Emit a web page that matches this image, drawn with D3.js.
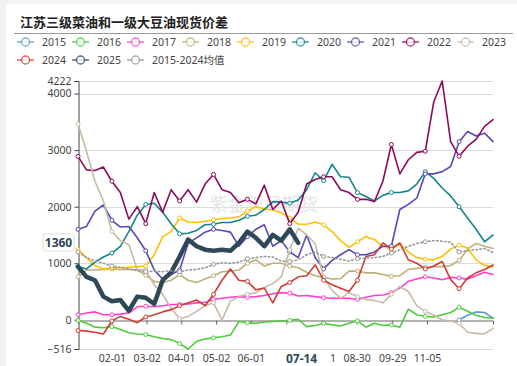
<!DOCTYPE html>
<html><head><meta charset="utf-8">
<script src="https://cdn.jsdelivr.net/npm/d3@7"></script>
<style>
html,body{margin:0;padding:0;background:#f2f2f2;}
svg{display:block;}
</style></head><body>
<svg id="c" width="517" height="366"></svg>
<script>
const title = "江苏三级菜油和一级大豆油现货价差";
const seriesNames = ["2015","2016","2017","2018","2019","2020","2021","2022","2023","2024","2025","2015-2024均值"];
const seriesColors = ["#5b9bd5","#4ccc3c","#ff40c8","#bfae7a","#ffc000","#12868c","#5a48b8","#8a0b5c","#c8b9a6","#d03c36","#2f4858","#999999"];
// weekly samples across the trading year (50 points)
const s2015 = [null,null,null,null,null,null,null,null,null,null, null,null,null,null,null,null,null,null,null,null, null,null,null,null,null,null,null,null,null,null, null,null,null,null,null,null,null,null,null,null, null,null,null,null,null,0,80,140,130,30];
const s2016 = [-10,-60,-130,-140,-120,-170,-230,-250,-260,-300, -330,-350,-420,-516,-380,-340,-320,-300,-270,-30, -50,-60,-40,-30,-20,-10,10,-120,-100,-60, -90,-110,-60,-20,-130,-60,-100,-90,-130,190, 90,60,50,90,130,220,150,80,40,30];
const s2017 = [90,120,140,90,90,100,120,230,240,230, 250,270,270,280,300,310,360,380,400,410, 400,410,430,460,480,470,420,430,410,390, 380,380,380,360,400,430,440,480,560,680, 720,760,740,710,750,740,720,780,840,800];
const s2018 = [760,880,880,890,900,890,890,880,790,680, 660,700,800,700,660,720,780,850,860,880, 1000,1060,950,1000,1000,950,920,840,780,750, 720,730,860,860,830,830,800,770,780,890, 910,930,940,940,960,1050,1250,1350,1300,1260];
const s2019 = [1240,1100,960,900,920,920,930,940,950,1150, 1470,1560,1800,1730,1720,1740,1770,1790,1800,1820, 1920,2000,1960,1940,1890,1800,1690,1690,1730,1680, 1560,1400,1280,1380,1470,1420,1300,1250,1340,1200, 1100,1070,1060,1120,1250,1320,1270,1060,960,940];
const s2020 = [940,900,1020,1110,1180,1300,1560,1850,2040,2060, 1900,1700,1520,1530,1580,1680,1690,1720,1720,1760, 1830,1850,1950,2090,2080,2060,2120,2300,2600,2460, 2750,2530,2520,2250,2180,2100,2200,2250,2250,2280, 2400,2620,2500,2330,2190,2000,1800,1600,1380,1500];
const s2021 = [1600,1650,1920,2030,1760,1640,1650,1450,1220,880, 720,800,880,1350,1450,1550,1600,1580,1550,1300, 1470,1600,1680,1300,1400,1200,1100,1500,1100,900, 1050,1150,1240,1150,1150,1200,1300,1300,1950,2040, 2150,2580,2580,2620,2710,3150,3330,3250,3300,3150];
const s2022 = [2890,2650,2640,2700,2450,2250,1780,2000,1700,2250, 1900,2300,2100,2300,2080,2400,2570,2300,2250,2070, 2130,2050,2380,1950,2100,1700,1900,2400,2480,2530, 2530,2300,2250,2130,2130,2090,2450,3100,2580,2830, 2960,2980,3850,4222,3150,2890,3070,3190,3420,3540];
const s2023 = [3460,2980,2450,2100,1560,1400,1330,890,880,620, 450,200,20,60,150,250,300,0,330,410, 450,480,570,640,760,1240,1620,1500,1350,750, 520,380,480,410,360,340,300,450,590,500, 250,150,80,0,-20,-60,-220,-240,-250,-150];
const s2024 = [-190,-200,-220,-250,-20,60,10,-50,50,90, 140,180,250,300,350,250,450,700,900,700, 680,530,560,300,590,660,760,780,970,700, 620,560,500,700,1120,1150,1360,1250,1360,1060, 1000,900,950,1030,710,550,740,830,890,970];
const s2025 = [940,760,700,410,330,350,160,410,390,280, 700,840,1120,1420,1300,1240,1220,1240,1220,1360, 1560,1450,1300,1500,1400,1600,1360, null,null,null, null,null,null,null,null,null,null,null,null,null, null,null,null,null,null,null,null,null,null,null];
const sAvg = [1200,1100,1040,1000,950,930,900,870,850,860, 850,870,850,880,890,920,980,1010,1000,1020, 1080,1100,1120,1110,1040,1030,1060,1150,1200,1120, 1100,1070,1040,1080,1090,1100,1120,1180,1240,1300, 1350,1380,1400,1390,1370,1200,1220,1240,1260,1190];
const allSeries = [s2015,s2016,s2017,s2018,s2019,s2020,s2021,s2022,s2023,s2024,s2025,sAvg];

// the 07-01 label is hidden behind the axis-pointer label in the reference
const xTickLabels = ["02-01","03-02","04-01","05-02","06-01","","07-31","08-30","09-29","11-05"];
const xTickPos = [4, 8.1, 12.2, 16.3, 20.4, 24.6, 28.8, 32.9, 37.1, 41.2];
const markerIdx = [0,4,8,12,16,20,25,29,33,37,41,45];
const yTicks = [-516, 0, 1000, 2000, 3000, 4000, 4222];
const pointerX = {label: "07-14", pos: 26.4};
const pointerY = 1360;
const watermark = "紫金天风期货";

const FONT = "'Noto Sans','Noto Sans CJK SC',sans-serif";
const svg = d3.select("#c");
svg.append("rect").attr("x",6).attr("y",4).attr("width",511).attr("height",362).attr("fill","#fff");

// title
svg.append("text").attr("x",20).attr("y",27).text(title)
  .attr("font-family","'Noto Sans CJK SC'").attr("font-weight","bold").attr("font-size",13).attr("fill","#222");
svg.append("line").attr("x1",14).attr("x2",513).attr("y1",33.5).attr("y2",33.5).attr("stroke","#9a9a9a").attr("stroke-width",1);

// legend
seriesNames.forEach((n,i)=>{
  const row = i < 9 ? 0 : 1;
  const col = i < 9 ? i : i - 9;
  const gx = 17 + col*55, gy = row===0 ? 42 : 60;
  const g = svg.append("g").attr("transform",`translate(${gx},${gy})`);
  g.append("line").attr("x1",0).attr("x2",17).attr("y1",0).attr("y2",0).attr("stroke",seriesColors[i]).attr("stroke-width",1.5).attr("opacity",0.8);
  g.append("circle").attr("cx",8.5).attr("cy",0).attr("r",4).attr("fill","#fff").attr("stroke",seriesColors[i]).attr("stroke-width",1.3).attr("opacity",0.8);
  g.append("text").attr("x",25).attr("y",3.6).text(n).attr("font-family",FONT).attr("font-size",10.5).attr("fill","#444");
});

// scales
const x = d3.scaleLinear().domain([0, 49]).range([78, 493]);
const y = d3.scaleLinear().domain(d3.extent(allSeries.flat().filter(v=>v!=null))).range([349, 81]);

// grid lines
svg.append("g").selectAll("line").data(yTicks.filter(v=>v!==0)).join("line")
  .attr("x1",78).attr("x2",493).attr("y1",d=>Math.round(y(d))+0.5).attr("y2",d=>Math.round(y(d))+0.5)
  .attr("stroke","#dcdcdc").attr("stroke-width",1);

// watermark
svg.append("text").attr("x",210).attr("y",211).text(watermark)
  .attr("font-family","'Noto Sans CJK SC'").attr("font-size",18).attr("fill","#e4e4e4");

// y axis
const yAxis = svg.append("g").attr("transform","translate(78.5,0)")
  .call(d3.axisLeft(y).tickValues(yTicks).tickSize(4).tickPadding(3).tickFormat(d3.format("d")));
yAxis.selectAll("text").attr("font-family",FONT).attr("font-size",10.5).attr("fill","#444");
yAxis.selectAll("line").attr("stroke","#444");
yAxis.select(".domain").attr("stroke","#444");

// x axis on zero line with ticks
const xAxis0 = svg.append("g").attr("transform",`translate(0,${Math.round(y(0))+0.5})`)
  .call(d3.axisBottom(x).tickValues(xTickPos).tickSize(4).tickFormat(""));
xAxis0.select(".domain").attr("stroke","#666");
xAxis0.selectAll("line").attr("stroke","#666");

// x labels at bottom
const xAxisB = svg.append("g").attr("transform",`translate(0,${Math.round(y(-516))})`)
  .call(d3.axisBottom(x).tickValues(xTickPos).tickSize(0).tickPadding(6).tickFormat((d,i)=>xTickLabels[i]));
xAxisB.select(".domain").remove();
xAxisB.selectAll("text").attr("font-family",FONT).attr("font-size",10.5).attr("fill","#444");

// series lines
const line = d3.line().defined(d=>d!=null).x((d,i)=>x(i)).y(d=>y(d));
allSeries.forEach((s,i)=>{
  const isMain = i === 10, isAvg = i === 11;
  svg.append("path").datum(s).attr("d",line).attr("fill","none")
    .attr("stroke",seriesColors[i])
    .attr("stroke-width", isMain ? 4.5 : 1.6)
    .attr("stroke-linejoin","round").attr("stroke-linecap","round")
    .attr("stroke-dasharray", isAvg ? "1.5,2.5" : null);
  if (!isMain) {
    svg.append("g").selectAll("circle").data(markerIdx.filter(k=>s[k]!=null)).join("circle")
      .attr("cx",k=>x(k)).attr("cy",k=>y(s[k])).attr("r",2)
      .attr("fill","#fff").attr("stroke",seriesColors[i]).attr("stroke-width",1);
  }
});

// x pointer label
const px = x(pointerX.pos);
svg.append("rect").attr("x",px-29).attr("y",351).attr("width",58).attr("height",15).attr("fill","#fff");
svg.append("text").attr("x",px).attr("y",363).attr("text-anchor","middle").text(pointerX.label)
  .attr("font-family",FONT).attr("font-weight","bold").attr("font-size",12).attr("fill","#2f4858");

// y pointer label
const py = y(pointerY);
svg.append("rect").attr("x",43).attr("y",py-9).attr("width",31).attr("height",17).attr("rx",2)
  .attr("fill","#fff").attr("stroke","#dddddd");
svg.append("text").attr("x",58.5).attr("y",py+4.5).attr("text-anchor","middle").text(String(pointerY))
  .attr("font-family",FONT).attr("font-weight","bold").attr("font-size",12).attr("fill","#2f4858");
</script>
</body></html>
